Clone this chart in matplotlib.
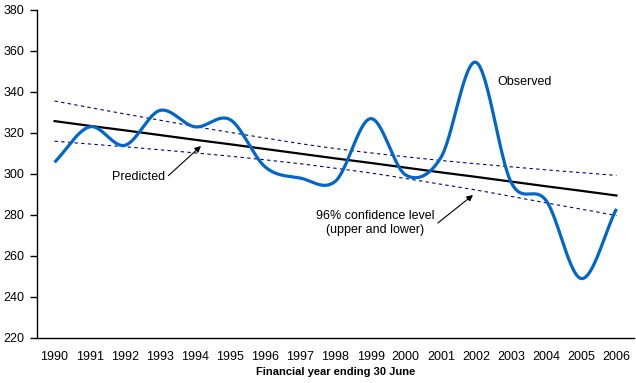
import numpy as np
import matplotlib
matplotlib.use("Agg")
import matplotlib.pyplot as plt

plt.rcParams['font.family'] = ['Liberation Sans', 'DejaVu Sans']

years = [str(y) for y in range(1990, 2007)]
observed = [305.7, 323, 314, 331, 323, 326.5, 303.4, 298, 296.5, 327, 299.5, 308, 354.5, 296, 287, 249, 283]
predicted = [325.8, 323.5, 321.3, 319.0, 316.7, 314.5, 312.2, 309.9, 307.6, 305.4, 303.1, 300.8, 298.6, 296.3, 294.0, 291.8, 289.5]
upper = [335.6, 332.4, 329.3, 326.2, 323.1, 320.3, 317.5, 314.8, 312.4, 310.3, 308.4, 306.6, 305.0, 303.5, 302.0, 300.7, 299.3]
lower = [316.0, 314.6, 313.3, 311.8, 310.3, 308.7, 306.9, 305.0, 302.8, 300.5, 297.8, 295.0, 292.2, 289.1, 285.9, 282.9, 279.7]
yticks = [220, 240, 260, 280, 300, 320, 340, 360, 380]


def smooth(xs, ys, n=30):
    xs = np.asarray(xs, float)
    ys = np.asarray(ys, float)
    px = np.concatenate([[2 * xs[0] - xs[1]], xs, [2 * xs[-1] - xs[-2]]])
    py = np.concatenate([[ys[0]], ys, [ys[-1]]])
    py[0] = 2 * ys[0] - ys[1]
    py[-1] = 2 * ys[-1] - ys[-2]
    outx, outy = [], []
    t = np.linspace(0, 1, n, endpoint=False)
    for i in range(1, len(px) - 2):
        for arr, out in ((px, outx), (py, outy)):
            p0, p1, p2, p3 = arr[i - 1], arr[i], arr[i + 1], arr[i + 2]
            m1 = (p2 - p0) / 2
            m2 = (p3 - p1) / 2
            h00 = 2 * t**3 - 3 * t**2 + 1
            h10 = t**3 - 2 * t**2 + t
            h01 = -2 * t**3 + 3 * t**2
            h11 = t**3 - t**2
            out.extend(h00 * p1 + h10 * m1 + h01 * p2 + h11 * m2)
    outx.append(xs[-1])
    outy.append(ys[-1])
    return np.array(outx), np.array(outy)


fig = plt.figure(figsize=(6.36, 3.83), dpi=100)
ax = fig.add_axes([37 / 636, 1 - 338 / 383, (634 - 37) / 636, (338 - 10) / 383])

x = np.arange(len(years))
sx, sy = smooth(x, upper)
ax.plot(sx, sy, color='#000080', lw=0.8, dashes=(3, 3))
sx, sy = smooth(x, lower)
ax.plot(sx, sy, color='#000080', lw=0.8, dashes=(3, 3))
ax.plot(x, predicted, color='black', lw=1.6)
sx, sy = smooth(x, observed)
ax.plot(sx, sy, color='#0066CC', lw=2.3, solid_capstyle='butt')

ax.set_xlim(-0.5, len(years) - 0.5)
ax.set_ylim(220, 380)
ax.set_yticks(yticks)
ax.set_xticks(x)
ax.set_xticklabels(years)
ax.tick_params(axis='x', length=0, pad=9, labelsize=9)
ax.tick_params(axis='y', length=5, width=1, pad=4, labelsize=9, direction='out')
for s in ('top', 'right'):
    ax.spines[s].set_visible(False)
for s in ('left', 'bottom'):
    ax.spines[s].set_linewidth(1.0)

ax.set_xlabel('Financial year ending 30 June', fontsize=8, fontweight='bold', labelpad=3)

def to_data(px, py):
    xd = -0.5 + (px - 37) / (634 - 37) * len(years)
    yd = 380 - (py - 10) / (338 - 10) * 160
    return xd, yd

ax.text(*to_data(497, 82), 'Observed', fontsize=9, ha='left', va='center')
ax.annotate('Predicted', xy=to_data(201, 146), xytext=to_data(139, 177),
            fontsize=9, ha='center', va='center',
            arrowprops=dict(arrowstyle='-|>', color='black', lw=0.8,
                            mutation_scale=9, shrinkA=0, shrinkB=0,
                            relpos=(1.05, 0.6)))
ax.annotate('96% confidence level\n(upper and lower)', xy=to_data(473, 195),
            xytext=to_data(375, 223), fontsize=9, ha='center', va='center',
            linespacing=1.3,
            arrowprops=dict(arrowstyle='-|>', color='black', lw=0.8,
                            mutation_scale=9, shrinkA=0, shrinkB=0,
                            relpos=(1.03, 0.5)))

fig.savefig('out.png', dpi=100)
